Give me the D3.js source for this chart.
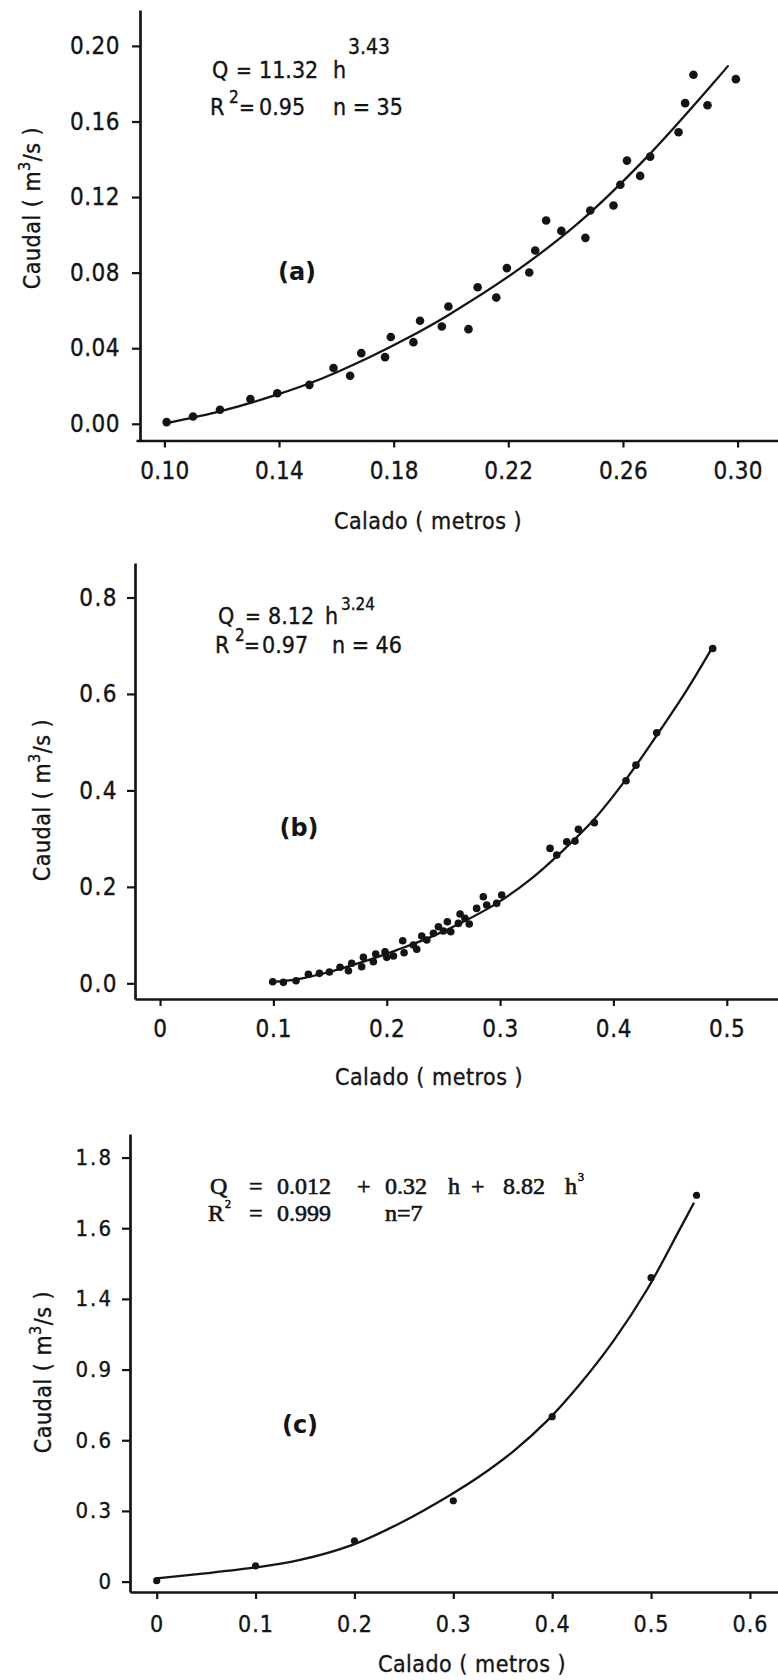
<!DOCTYPE html>
<html>
<head>
<meta charset="utf-8">
<script src="https://cdn.jsdelivr.net/npm/d3@7"></script>
<style>
  html, body { margin: 0; padding: 0; background: #fff; }
  svg { display: block; }
  .sans { font-family: 'DejaVu Sans Condensed', 'DejaVu Sans', sans-serif; font-stretch: condensed; fill: #141414; stroke: #141414; stroke-width: 0.35px; }
  .serif { font-family: 'Liberation Serif', 'DejaVu Serif', serif; fill: #141414; stroke: #141414; stroke-width: 0.6px; }
  .tag { font-family: 'DejaVu Sans', sans-serif; font-weight: bold; fill: #141414; }
</style>
</head>
<body>
<svg id="fig" width="778" height="1680"></svg>
<script>
// ---- Panel (a): gauged flow vs depth, power fit ----
const aDepth = [0.1008, 0.110, 0.1194, 0.130, 0.1394, 0.1506, 0.159, 0.1648, 0.1687, 0.177,
                0.179, 0.1869, 0.1892, 0.1968, 0.1991, 0.2061, 0.2093, 0.2158, 0.2195, 0.2273,
                0.2294, 0.2332, 0.2385, 0.2469, 0.2486, 0.2567, 0.2591, 0.2614, 0.2660, 0.2695,
                0.2794, 0.2817, 0.2846, 0.2895, 0.2994];
const aFlow  = [0.0009, 0.0039, 0.0074, 0.0131, 0.0162, 0.0206, 0.0295, 0.0254, 0.0374, 0.0353,
                0.0459, 0.0432, 0.0545, 0.0515, 0.0621, 0.0501, 0.0723, 0.0668, 0.0824, 0.0801,
                0.0917, 0.1076, 0.1021, 0.0984, 0.1129, 0.1155, 0.1265, 0.1393, 0.1312, 0.1414,
                0.1543, 0.1697, 0.1847, 0.1686, 0.1824];
const aFitDepth = [0.101, 0.12, 0.139, 0.155, 0.171, 0.185, 0.199, 0.222, 0.245, 0.268, 0.292, 0.2966];
const aFitFlow  = [0.0004, 0.0068, 0.0153, 0.024, 0.0348, 0.0455, 0.0575, 0.080, 0.107, 0.1406, 0.1811, 0.1893];
const aXTicks = [0.10, 0.14, 0.18, 0.22, 0.26, 0.30];
const aXLabels = ["0.10", "0.14", "0.18", "0.22", "0.26", "0.30"];
const aYTicks = [0, 0.04, 0.08, 0.12, 0.16, 0.20];
const aYLabels = ["0.00", "0.04", "0.08", "0.12", "0.16", "0.20"];

// ---- Panel (b) ----
const bDepth = [0.0994, 0.1088, 0.12, 0.1309, 0.1406, 0.1494, 0.1588, 0.1662, 0.1691, 0.1779,
                0.1794, 0.1882, 0.1903, 0.1985, 0.2, 0.2059, 0.2141, 0.2153, 0.2235, 0.2265,
                0.2309, 0.2353, 0.2412, 0.2456, 0.25, 0.2535, 0.2565, 0.2632, 0.2647, 0.269,
                0.2728, 0.2793, 0.2852, 0.2882, 0.297, 0.3014, 0.3441, 0.35, 0.3588, 0.3661,
                0.3691, 0.3832, 0.4111, 0.4199, 0.4382, 0.4876];
const bFlow  = [0.0033, 0.002, 0.0054, 0.0187, 0.0207, 0.0234, 0.0332, 0.0261, 0.0415, 0.0344,
                0.0539, 0.0448, 0.0607, 0.0655, 0.0539, 0.0566, 0.0883, 0.0634, 0.0794, 0.0705,
                0.098, 0.0897, 0.1036, 0.1173, 0.1084, 0.1277, 0.1069, 0.1243, 0.1436, 0.1347,
                0.1229, 0.1554, 0.1795, 0.1623, 0.1658, 0.183, 0.2798, 0.2659, 0.2935, 0.2949,
                0.3192, 0.3329, 0.4199, 0.4524, 0.5194, 0.6943];
const bFitDepth = [0.0994, 0.1206, 0.15, 0.1794, 0.2088, 0.2382, 0.2676, 0.297, 0.3265, 0.3559,
                   0.3824, 0.4117, 0.4396, 0.4647, 0.4867];
const bFitFlow  = [0.0033, 0.0083, 0.024, 0.0448, 0.069, 0.0953, 0.1277, 0.1658, 0.215, 0.2763,
                   0.3385, 0.4249, 0.519, 0.608, 0.694];
const bXTicks = [0, 0.1, 0.2, 0.3, 0.4, 0.5];
const bXLabels = ["0", "0.1", "0.2", "0.3", "0.4", "0.5"];
const bYTicks = [0, 0.2, 0.4, 0.6, 0.8];
const bYLabels = ["0.0", "0.2", "0.4", "0.6", "0.8"];

// ---- Panel (c): cubic fit ----
const cDepth = [0, 0.1, 0.2, 0.3, 0.4, 0.5, 0.546];
const cFlow  = [0.004, 0.067, 0.173, 0.343, 0.70, 1.29, 1.64];
const cFitDepth = [0, 0.044, 0.1, 0.145, 0.198, 0.246, 0.297, 0.327, 0.361, 0.394,
                   0.428, 0.462, 0.496, 0.529, 0.543];
const cFitFlow  = [0.014, 0.033, 0.06, 0.092, 0.156, 0.248, 0.368, 0.448, 0.554, 0.679,
                   0.838, 1.022, 1.24, 1.495, 1.605];
const cXTicks = [0, 0.1, 0.2, 0.3, 0.4, 0.5, 0.6];
const cXLabels = ["0", "0.1", "0.2", "0.3", "0.4", "0.5", "0.6"];
const cYTicks = [0, 0.3, 0.6, 0.9, 1.2, 1.5, 1.8];
const cYLabels = ["0", "0.3", "0.6", "0.9", "1.4", "1.6", "1.8"];

const ink = "#141414";
const svg = d3.select("#fig");
svg.append("rect").attr("width", 778).attr("height", 1680).attr("fill", "#fff");

const panels = [
  {
    depth: aDepth, flow: aFlow, fitDepth: aFitDepth, fitFlow: aFitFlow,
    xTicks: aXTicks, xLabels: aXLabels, yTicks: aYTicks, yLabels: aYLabels,
    xDom: [0.0901, 0.3141], xRange: [136, 778],
    yDom: [-0.00884, 0.219], yRange: [440.5, 10],
    yAxisX: 140, xPad: 14, yPad: 12, tickFont: 24, tickSpacing: 0.5, xTickFont: 24,
    r: 4.3, tag: "(a)", tagPos: [297, 272],
    yTitle: [32, 208], xTitle: [428, 529]
  },
  {
    depth: bDepth, flow: bFlow, fitDepth: bFitDepth, fitFlow: bFitFlow,
    xTicks: bXTicks, xLabels: bXLabels, yTicks: bYTicks, yLabels: bYLabels,
    xDom: [-0.0221, 0.5452], xRange: [135, 778],
    yDom: [-0.0325, 0.8715], yRange: [999, 563],
    yAxisX: 135, xPad: 14, yPad: 9, tickFont: 24, tickSpacing: 1.5, xTickFont: 24,
    r: 3.8, tag: "(b)", tagPos: [299, 828],
    yTitle: [42, 800], xTitle: [429, 1085]
  },
  {
    depth: cDepth, flow: cFlow, fitDepth: cFitDepth, fitFlow: cFitFlow,
    xTicks: cXTicks, xLabels: cXLabels, yTicks: cYTicks, yLabels: cYLabels,
    xDom: [-0.027, 0.6284], xRange: [130, 778],
    yDom: [-0.0442, 1.90], yRange: [1592, 1134],
    yAxisX: 130, xPad: 17, yPad: 9, tickFont: 22, tickSpacing: 2, xTickFont: 23,
    r: 3.6, tag: "(c)", tagPos: [300, 1425],
    yTitle: [43, 1372], xTitle: [472, 1672]
  }
];

function styleAxis(g, fontSize, spacing) {
  g.attr("font-family", null).attr("font-size", null);
  g.select(".domain").attr("stroke", ink).attr("stroke-width", 2.7);
  g.selectAll(".tick line").attr("stroke", ink).attr("stroke-width", 2.2);
  g.selectAll(".tick text")
    .attr("class", "sans")
    .attr("fill", ink)
    .style("font-size", fontSize + "px")
    .style("letter-spacing", spacing + "px");
}

panels.forEach(p => {
  const x = d3.scaleLinear().domain(p.xDom).range(p.xRange);
  const y = d3.scaleLinear().domain(p.yDom).range(p.yRange);
  const g = svg.append("g");

  // axes
  const gx = g.append("g").attr("transform", `translate(0,${p.yRange[0]})`)
    .call(d3.axisBottom(x).tickValues(p.xTicks).tickFormat((d, i) => p.xLabels[i])
      .tickSize(7).tickSizeOuter(0).tickPadding(p.xPad));
  styleAxis(gx, p.xTickFont, p.tickSpacing * 0.5);

  const gy = g.append("g").attr("transform", `translate(${p.yAxisX},0)`)
    .call(d3.axisLeft(y).tickValues(p.yTicks).tickFormat((d, i) => p.yLabels[i])
      .tickSize(8).tickSizeOuter(0).tickPadding(p.yPad));
  styleAxis(gy, p.tickFont, p.tickSpacing);

  // fitted curve
  const fit = p.fitDepth.map((h, i) => [h, p.fitFlow[i]]);
  g.append("path").datum(fit)
    .attr("fill", "none").attr("stroke", ink).attr("stroke-width", 2.3)
    .attr("stroke-linejoin", "round").attr("stroke-linecap", "round")
    .attr("d", d3.line().x(d => x(d[0])).y(d => y(d[1])).curve(d3.curveCatmullRom.alpha(0.5)));

  // observations
  g.selectAll("circle.obs").data(p.depth.map((h, i) => [h, p.flow[i]]))
    .join("circle").attr("class", "obs")
    .attr("cx", d => x(d[0])).attr("cy", d => y(d[1]))
    .attr("r", p.r).attr("fill", ink);

  // panel tag
  g.append("text").attr("class", "tag")
    .attr("x", p.tagPos[0]).attr("y", p.tagPos[1])
    .attr("text-anchor", "middle").attr("dominant-baseline", "central")
    .style("font-size", "24px").text(p.tag);

  // axis titles
  const yt = g.append("text").attr("class", "sans")
    .attr("transform", `translate(${p.yTitle[0]},${p.yTitle[1]}) rotate(-90)`)
    .attr("text-anchor", "middle").attr("dominant-baseline", "central")
    .style("font-size", "23px").style("letter-spacing", "0.5px");
  yt.append("tspan").text("Caudal ( m");
  yt.append("tspan").attr("dy", -8).style("font-size", "16px").text("3");
  yt.append("tspan").attr("dy", 8).text("/s )");

  g.append("text").attr("class", "sans")
    .attr("x", p.xTitle[0]).attr("y", p.xTitle[1])
    .attr("text-anchor", "middle")
    .style("font-size", "23px").style("letter-spacing", "0.5px")
    .text("Calado ( metros )");
});

// ---- fit equations ----
function piece(parent, cls, size, x, y, str, anchor) {
  return parent.append("text").attr("class", cls).attr("x", x).attr("y", y)
    .attr("text-anchor", anchor || "start")
    .style("font-size", size + "px").text(str);
}
const eq = svg.append("g");
// (a)
piece(eq, "sans", 23, 212, 78, "Q");
piece(eq, "sans", 21, 244, 78, "=", "middle");
piece(eq, "sans", 23, 259, 78, "11.32");
piece(eq, "sans", 23, 333, 78, "h");
piece(eq, "sans", 21, 348, 54, "3.43");
piece(eq, "sans", 23, 210, 115, "R");
piece(eq, "sans", 17, 229, 103, "2");
piece(eq, "sans", 21, 247, 115, "=", "middle");
piece(eq, "sans", 23, 259, 115, "0.95");
piece(eq, "sans", 23, 333, 115, "n = 35");
// (b)
piece(eq, "sans", 23, 218, 624, "Q");
piece(eq, "sans", 21, 253, 624, "=", "middle");
piece(eq, "sans", 23, 268, 624, "8.12");
piece(eq, "sans", 23, 325, 624, "h");
piece(eq, "sans", 17, 341, 610, "3.24");
piece(eq, "sans", 23, 215, 653, "R");
piece(eq, "sans", 17, 235, 641, "2");
piece(eq, "sans", 21, 252, 653, "=", "middle");
piece(eq, "sans", 23, 262, 653, "0.97");
piece(eq, "sans", 23, 332, 653, "n = 46");
// (c)
const ser = 24;
piece(eq, "serif", ser, 210, 1194, "Q");
piece(eq, "serif", ser, 249, 1194, "=");
piece(eq, "serif", ser, 277, 1194, "0.012");
piece(eq, "serif", ser, 357, 1194, "+");
piece(eq, "serif", ser, 385, 1194, "0.32");
piece(eq, "serif", ser, 448, 1194, "h");
piece(eq, "serif", ser, 471, 1194, "+");
piece(eq, "serif", ser, 503, 1194, "8.82");
piece(eq, "serif", ser, 565, 1194, "h");
piece(eq, "serif", 12, 578, 1181, "3");
piece(eq, "serif", ser, 208, 1221, "R");
piece(eq, "serif", 12, 225, 1208, "2");
piece(eq, "serif", ser, 249, 1221, "=");
piece(eq, "serif", ser, 277, 1221, "0.999");
piece(eq, "serif", ser, 385, 1221, "n=7");
</script>
</body>
</html>
